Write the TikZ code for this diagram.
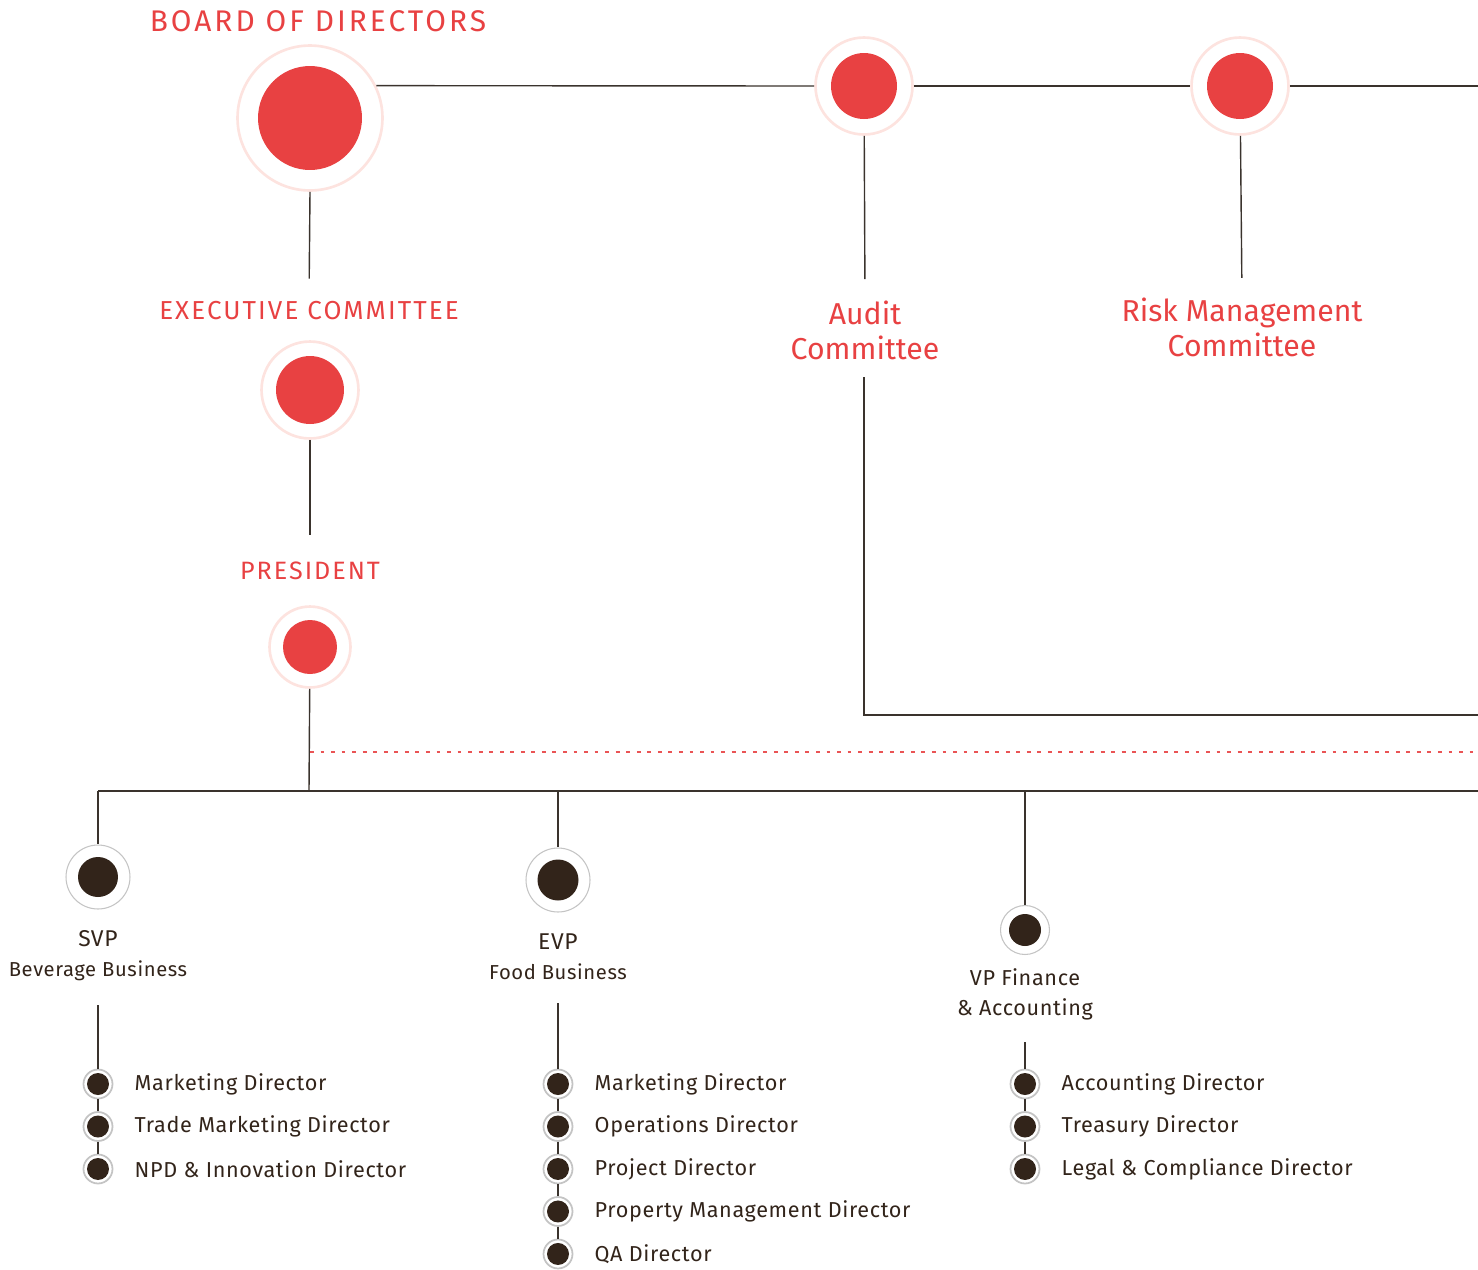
\documentclass[tikz,border=0pt]{standalone}
\usepackage{fontspec}
\setmainfont{Fira Sans}
\newfontfamily\capsfont[LetterSpace=8]{Fira Sans}
\newfontfamily\boardfont[LetterSpace=10]{Fira Sans}
\newfontfamily\itemfont[LetterSpace=3]{Fira Sans}
\usetikzlibrary{positioning}

\definecolor{brandred}{HTML}{E84142}
\definecolor{ringpink}{HTML}{FDE3DF}
\definecolor{darkdot}{HTML}{32241A}
\definecolor{ringgrey}{HTML}{C4C4C4}
\definecolor{linkgrey}{HTML}{3A332D}

\begin{document}
\begin{tikzpicture}[x=0.02cm,y=-0.02cm,node distance=0.85cm,
    reddot/.style 2 args={circle,draw=ringpink,line width=1.5pt,fill=white,
      minimum size=#1,inner sep=0pt,
      path picture={\fill[brandred] (path picture bounding box.center) circle (#2);}},
    darknode/.style 2 args={circle,draw=ringgrey,line width=0.6pt,fill=white,
      minimum size=#1,inner sep=0pt,
      path picture={\fill[darkdot] (path picture bounding box.center) circle (#2);}},
    bullet/.style={darknode={0.58cm}{0.22cm},line width=1pt},
    redtitle/.style={text=brandred,inner sep=0pt,font=\capsfont\fontsize{14.8pt}{17pt}\selectfont},
    redname/.style={text=brandred,inner sep=0pt,align=center,font=\fontsize{17.2pt}{20pt}\selectfont},
    headname/.style={text=darkdot,inner sep=0pt,align=center,font=\itemfont\fontsize{11.5pt}{17pt}\selectfont},
    item/.style={text=darkdot,inner sep=0pt,font=\itemfont\fontsize{12.3pt}{14pt}\selectfont},
    link/.style={draw=linkgrey,line width=0.8pt},
    dotline/.style={draw=brandred!90,line width=0.8pt,dash pattern=on 2.2pt off 3.8pt}]

  \useasboundingbox (0,0) rectangle (1478,1269);

  % board and committees
  \node[reddot={2.9cm}{1.04cm}] (board) at (310,118) {};
  \node[redtitle,anchor=base,font=\boardfont\fontsize{17pt}{20pt}\selectfont] (boardlbl) at (318,31) {BOARD OF DIRECTORS};
  \node[reddot={1.94cm}{0.66cm}] (audit) at (864,86) {};
  \node[reddot={1.94cm}{0.66cm}] (risk) at (1240,86) {};
  \node[redname] (auditlbl) at (865,330) {Audit\\Committee};
  \node[redname] (risklbl) at (1242,327) {Risk Management\\Committee};

  % executive line
  \node[redtitle] (execlbl) at (309,311) {EXECUTIVE COMMITTEE};
  \node[reddot={1.94cm}{0.68cm}] (exec) at (310,390) {};
  \node[redtitle,font=\capsfont\fontsize{14.3pt}{17pt}\selectfont] (preslbl) at (310,571) {PRESIDENT};
  \node[reddot={1.62cm}{0.54cm}] (pres) at (310,647) {};

  \coordinate (edgetop) at (1478,86);
  \coordinate (edgeaudit) at (1478,715);
  \coordinate (auditfoot) at (864,377);
  \coordinate (corner) at (864,715);
  \coordinate (dashstart) at (310,752);
  \coordinate (dashend) at (1478,752);
  \coordinate (junc) at (309,791);
  \coordinate (edgejunc) at (1478,791);
  \coordinate (jsvp) at (98,791);
  \coordinate (jevp) at (558,791);
  \coordinate (jvp) at (1025,791);

  % business heads
  \node[darknode={1.28cm}{0.4cm}] (svp) at (98,877) {};
  \node[headname] (svplbl) at (98,956) {{\fontsize{13pt}{17pt}\selectfont SVP}\\Beverage Business};
  \node[darknode={1.28cm}{0.41cm}] (evp) at (558,880) {};
  \node[headname] (evplbl) at (558,957) {{\fontsize{13pt}{17pt}\selectfont EVP}\\Food Business};
  \node[darknode={0.98cm}{0.32cm}] (vp) at (1025,930) {};
  \node[headname,font=\itemfont\fontsize{12.3pt}{17pt}\selectfont] (vplbl) at (1025,994) {VP Finance\\\& Accounting};
  \coordinate (svpfoot) at (98,1005);
  \coordinate (evpfoot) at (558,1003);
  \coordinate (vpfoot) at (1025,1042);

  % directors
  \node[bullet] (s1) at (98,1084) {};
  \node[bullet] (s2) [below of=s1] {};
  \node[bullet] (s3) [below of=s2] {};
  \node[item,right=0.42cm of s1] (s1lbl) {Marketing Director};
  \node[item,right=0.42cm of s2] (s2lbl) {Trade Marketing Director};
  \node[item,right=0.42cm of s3] (s3lbl) {NPD \& Innovation Director};

  \node[bullet] (e1) at (558,1084) {};
  \node[bullet] (e2) [below of=e1] {};
  \node[bullet] (e3) [below of=e2] {};
  \node[bullet] (e4) [below of=e3] {};
  \node[bullet] (e5) [below of=e4] {};
  \node[item,right=0.42cm of e1] (e1lbl) {Marketing Director};
  \node[item,right=0.42cm of e2] (e2lbl) {Operations Director};
  \node[item,right=0.42cm of e3] (e3lbl) {Project Director};
  \node[item,right=0.42cm of e4] (e4lbl) {Property Management Director};
  \node[item,right=0.42cm of e5] (e5lbl) {QA Director};

  \node[bullet] (f1) at (1025,1084) {};
  \node[bullet] (f2) [below of=f1] {};
  \node[bullet] (f3) [below of=f2] {};
  \node[item,right=0.42cm of f1] (f1lbl) {Accounting Director};
  \node[item,right=0.42cm of f2] (f2lbl) {Treasury Director};
  \node[item,right=0.42cm of f3] (f3lbl) {Legal \& Compliance Director};

  % connectors
  \draw[link] (board.26) -- (audit.west);
  \draw[link] (audit) -- (risk);
  \draw[link] (risk) -- (edgetop);
  \draw[link,shorten >=13pt] (board.south) -- (execlbl.north);
  \draw[link,shorten >=15pt] (exec.south) -- (preslbl.north);
  \draw[link] (pres) -- (junc);
  \draw[link,shorten >=12pt] (audit) -- (auditlbl.north);
  \draw[link] (auditfoot) -- (corner) -- (edgeaudit);
  \draw[link,shorten >=11pt] (risk) -- (risklbl.north);
  \draw[dotline] (dashstart) -- (dashend);
  \draw[link] (jsvp) -- (edgejunc);
  \draw[link] (jsvp) -- (svp);
  \draw[link] (jevp) -- (evp);
  \draw[link] (jvp) -- (vp);
  \draw[link] (svpfoot) -- (s1) -- (s2) -- (s3);
  \draw[link] (evpfoot) -- (e1) -- (e2) -- (e3) -- (e4) -- (e5);
  \draw[link] (vpfoot) -- (f1) -- (f2) -- (f3);
\end{tikzpicture}
\end{document}
